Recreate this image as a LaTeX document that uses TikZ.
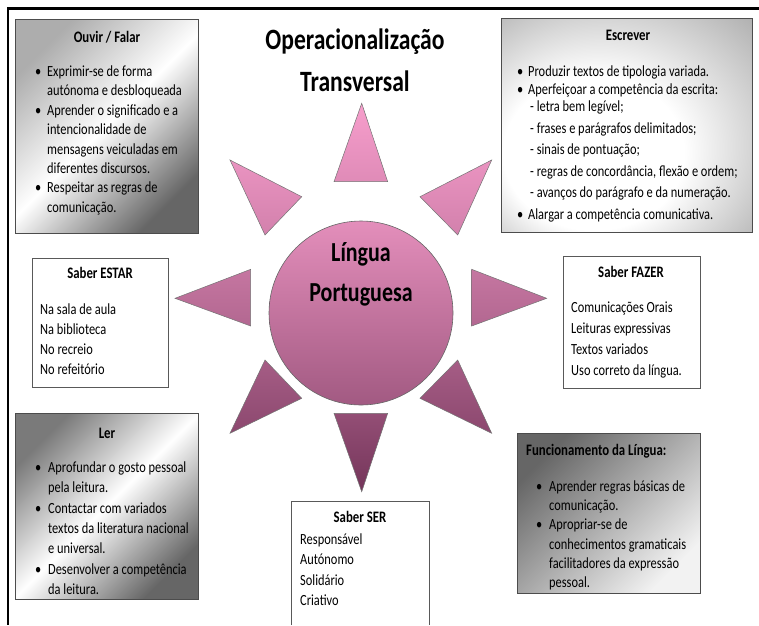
\documentclass[tikz,border=0pt]{standalone}
\usepackage{fontspec}
\setmainfont{Carlito}[FakeStretch=0.80]
\definecolor{pinkA}{HTML}{F79ECC}
\definecolor{mauveB}{HTML}{74355A}
\pgfdeclareradialshading{escrshade}{\pgfpoint{-10bp}{-10bp}}{color(0bp)=(white); color(18bp)=(white); color(52bp)=(black!50)}
\newcommand{\bt}[1]{\makebox[#1][l]{\textbullet}}
\newcommand{\fst}{\rule{0pt}{11.5pt}}
\tikzset{
  tri/.style={draw=black!55, line width=0.5pt},
  whitebox/.style={draw=black!65, line width=0.8pt, fill=white},
  graybox/.style={draw=black!70, line width=0.8pt},
  boxtitle/.style={font=\bfseries\fontsize{16}{18}\selectfont, inner sep=0pt, anchor=base},
  body/.style={font=\fontsize{15.5}{19.4}\selectfont, align=left, inner sep=0pt, anchor=north west},
  bigtitle/.style={font=\bfseries\fontsize{29.5}{34}\selectfont, inner sep=0pt, anchor=base},
  suntext/.style={font=\bfseries\fontsize{27.5}{32}\selectfont, inner sep=0pt, anchor=base},
}
\begin{document}
\begin{tikzpicture}[x=1pt,y=-1pt]
\useasboundingbox (0,0) rectangle (759,625);
\fill[white] (0,0) rectangle (759,625);
% frame
\draw[line width=2.7pt] (7.3,8.7) -- (759,8.7);
\draw[line width=1.7pt] (8.2,8.7) -- (8.2,625);

% gray boxes
\path[graybox, top color=black!32, bottom color=black!60, middle color=white, shading angle=45] (15,19) rectangle (198,233);
\path[graybox, shade, shading=escrshade] (501,18) rectangle (752,232);
\path[graybox, top color=black!52, bottom color=black!60, middle color=white, shading angle=45] (15,413) rectangle (198,599);
\path[graybox, top color=black!60, bottom color=black!5, shading angle=45] (517,433) rectangle (700,593);
% white boxes
\path[whitebox] (32,258) rectangle (168,387);
\path[whitebox] (563,256) rectangle (700,388);
\fill[white] (291,501) rectangle (429,625);
\draw[draw=black!65, line width=0.8pt] (291,625) -- (291,501) -- (429,501) -- (429,625);

% star rays
\draw[tri, top color=pinkA!100!mauveB, bottom color=pinkA!82!mauveB] (361.7,103.3) -- (334,181.7) -- (387.7,181.7) -- cycle;
\draw[tri, top color=pinkA!90!mauveB, bottom color=pinkA!72!mauveB] (230,160) -- (265,235) -- (301.7,196.7) -- cycle;
\draw[tri, top color=pinkA!90!mauveB, bottom color=pinkA!72!mauveB] (491.7,160) -- (420,196.7) -- (457.7,235) -- cycle;
\draw[tri, top color=pinkA!62!mauveB, bottom color=pinkA!48!mauveB] (175,298.3) -- (250.7,269.3) -- (250.7,326) -- cycle;
\draw[tri, top color=pinkA!62!mauveB, bottom color=pinkA!48!mauveB] (546.7,298.3) -- (471.7,269.3) -- (471.7,326) -- cycle;
\draw[tri, top color=pinkA!38!mauveB, bottom color=pinkA!18!mauveB] (230,433.3) -- (265,360) -- (301.7,398.3) -- cycle;
\draw[tri, top color=pinkA!38!mauveB, bottom color=pinkA!18!mauveB] (491.7,433.3) -- (420,398.3) -- (457.7,360) -- cycle;
\draw[tri, top color=pinkA!24!mauveB, bottom color=pinkA!0!mauveB] (361.7,491.7) -- (334,413.3) -- (387.7,413.3) -- cycle;

% centre
\node[circle, minimum size=184pt, inner sep=0pt, draw=black!60, line width=0.6pt, top color=pinkA!85!mauveB, bottom color=pinkA!35!mauveB] (sun) at (361,313) {};
\node[suntext] (lingua) at (361,261.7) {Língua};
\node[suntext] (portug) at (361,301.7) {Portuguesa};

% title
\node[bigtitle] (t1) at (355,49.3) {Operacionalização};
\node[bigtitle] (t2) at (355,91.3) {Transversal};

% Ouvir / Falar
\node[boxtitle] (ouvirT) at (107,42) {Ouvir / Falar};
\node[body] (ouvirB) at (35,64.8) {\fst\bt{12pt}Exprimir-se de forma\\\hspace*{12pt}autónoma e desbloqueada\\\bt{12pt}Aprender o significado e a\\\hspace*{12pt}intencionalidade de\\\hspace*{12pt}mensagens veiculadas em\\\hspace*{12pt}diferentes discursos.\\\bt{12pt}Respeitar as regras de\\\hspace*{12pt}comunicação.};

% Escrever
\node[boxtitle] (escT) at (628,40) {Escrever};
\node[body, font=\fontsize{15.5}{17.5}\selectfont] (escB) at (517,64.8) {\fst\bt{11pt}Produzir textos de tipologia variada.\\\bt{11pt}Aperfeiçoar a competência da escrita:\\\hspace*{13pt}- letra bem legível;\\[4pt]\hspace*{13pt}- frases e parágrafos delimitados;\\[4pt]\hspace*{13pt}- sinais de pontuação;\\[4pt]\hspace*{13pt}- regras de concordância, flexão e ordem;\\[4pt]\hspace*{13pt}- avanços do parágrafo e da numeração.\\[4pt]\bt{11pt}Alargar a competência comunicativa.};

% Saber ESTAR
\node[boxtitle] (estarT) at (100,278) {Saber ESTAR};
\node[body, font=\fontsize{15.5}{20}\selectfont] (estarB) at (40,302.8) {\fst Na sala de aula\\Na biblioteca\\No recreio\\No refeitório};

% Saber FAZER
\node[boxtitle] (fazerT) at (631,277) {Saber FAZER};
\node[body, font=\fontsize{15.5}{21}\selectfont] (fazerB) at (571,300.8) {\fst Comunicações Orais\\Leituras expressivas\\Textos variados\\Uso correto da língua.};

% Ler
\node[boxtitle] (lerT) at (107,438) {Ler};
\node[body, font=\fontsize{15.5}{20.3}\selectfont] (lerB) at (35,460.8) {\fst\bt{13pt}Aprofundar o gosto pessoal\\\hspace*{13pt}pela leitura.\\\bt{13pt}Contactar com variados\\\hspace*{13pt}textos da literatura nacional\\\hspace*{13pt}e universal.\\\bt{13pt}Desenvolver a competência\\\hspace*{13pt}da leitura.};

% Funcionamento da Lingua
\node[boxtitle, anchor=base west] (funcT) at (526,455) {Funcionamento da Língua:};
\node[body, font=\fontsize{15.5}{19.2}\selectfont] (funcB) at (536,479.8) {\fst\bt{13pt}Aprender regras básicas de\\\hspace*{13pt}comunicação.\\\bt{13pt}Apropriar-se de\\\hspace*{13pt}conhecimentos gramaticais\\\hspace*{13pt}facilitadores da expressão\\\hspace*{13pt}pessoal.};

% Saber SER
\node[boxtitle] (serT) at (360,522) {Saber SER};
\node[body, font=\fontsize{15.5}{20.3}\selectfont] (serB) at (300,532.8) {\fst Responsável\\Autónomo\\Solidário\\Criativo};
\end{tikzpicture}
\end{document}
